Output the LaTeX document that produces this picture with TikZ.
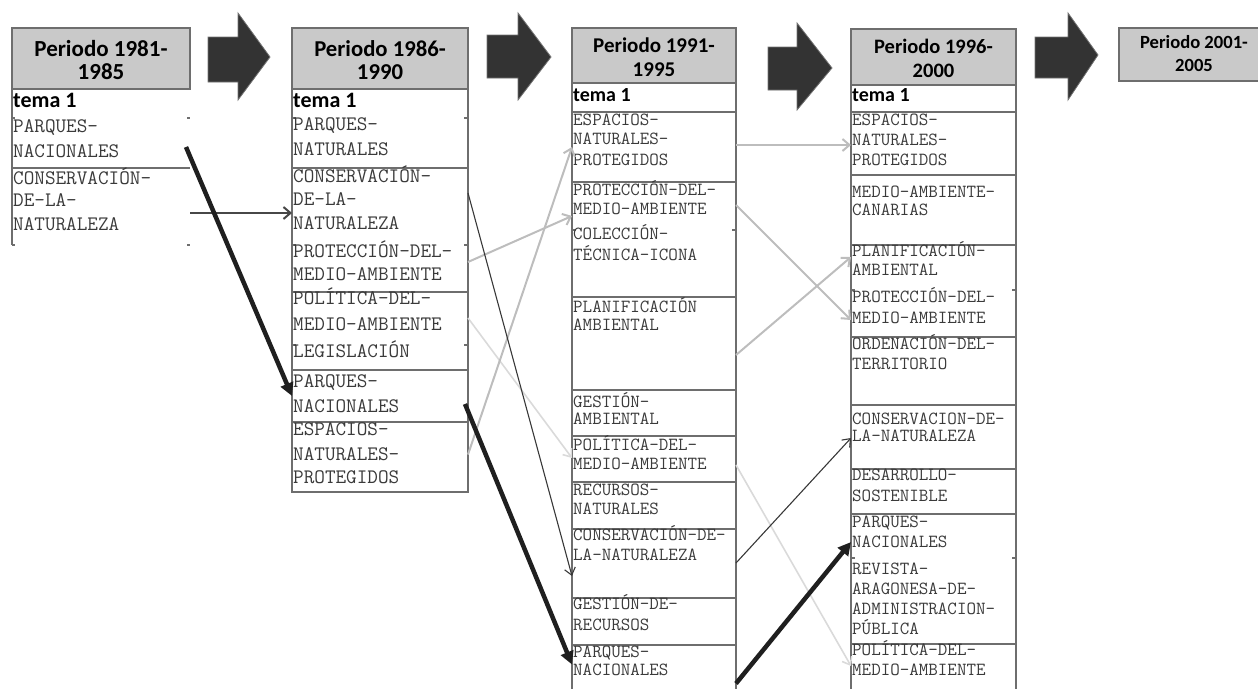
\documentclass[tikz,border=0pt]{standalone}
\usepackage{fontspec}
\usetikzlibrary{arrows.meta}
\newfontfamily\califam{Carlito}
\definecolor{gridc}{HTML}{6E6E6E}
\definecolor{headc}{HTML}{C9C9C9}
\definecolor{itemc}{HTML}{3A3A3A}
\definecolor{blockc}{HTML}{333333}
\definecolor{lightc}{HTML}{BDBDBD}
\definecolor{palec}{HTML}{DADADA}
\begin{document}
\begin{tikzpicture}[
  x=1pt, y=-1pt,
  gridline/.style={draw=gridc, line width=1.3pt},
  headbox/.style={draw=gridc, fill=headc, line width=1.3pt, inner sep=0pt, outer sep=0pt, anchor=north west},
  cellbox/.style={draw=gridc, line width=1.3pt, inner sep=0pt, outer sep=0pt, anchor=north west},
  freecell/.style={inner sep=0pt, outer sep=0pt, anchor=north west},
  headtext/.style={align=center, text=black, inner sep=0pt},
  tematext/.style={anchor=mid west, inner sep=0pt, text=black},
  itemA/.style={anchor=mid west, inner sep=0pt, text=itemc, font=\ttfamily\fontsize{20.6}{22}\selectfont},
  itemB/.style={anchor=mid west, inner sep=0pt, text=itemc, font=\ttfamily\fontsize{18.5}{20}\selectfont},
  bigarrow/.style={fill=blockc, draw=black!55, line width=0.8pt, line join=miter},
  heavylink/.style={draw=black!88, line width=4.5pt, -{Triangle[length=13pt,width=13pt]}},
  midlink/.style={draw=black!72, line width=2pt, -{Straight Barb[length=7pt,width=12pt]}},
  darklink/.style={draw=black!78, line width=1.1pt, -{Straight Barb[length=7pt,width=11pt]}},
  lightlink/.style={draw=lightc, line width=2pt, -{Straight Barb[length=7pt,width=12pt]}},
  palelink/.style={draw=palec, line width=1.6pt, -{Straight Barb[length=7pt,width=11pt]}}
]
\useasboundingbox (0,0) rectangle (1258,688);
\clip (0,0) rectangle (1258,688);

% ---------- block arrows between periods ----------
\draw[bigarrow] (208,37) -- (238,37) -- (238,13) -- (270,57) -- (238,100) -- (238,82) -- (208,82) -- cycle;
\draw[bigarrow] (487,35) -- (518,35) -- (518,13) -- (551,57) -- (518,100) -- (518,78) -- (487,78) -- cycle;
\draw[bigarrow] (768,47) -- (797,47) -- (797,23) -- (832,68) -- (797,110) -- (797,90) -- (768,90) -- cycle;
\draw[bigarrow] (1035,37) -- (1068,37) -- (1068,13) -- (1098,55) -- (1068,100) -- (1068,78) -- (1035,78) -- cycle;

% ---------- period 1981-1985 ----------
\node[headbox, minimum width=178pt, minimum height=61pt] (h1) at (12,28) {};
\node[headtext, font=\califam\bfseries\fontsize{23}{23}\selectfont] (t1) at ([yshift=-2pt]h1.center) {Periodo 1981-\\1985};
\node[freecell, minimum width=178pt, minimum height=79pt] (c1a) at (12,89) {};
\node[freecell, minimum width=178pt, minimum height=77pt] (c1b) at (12,168) {};
\draw[gridline] (c1a.north west) -- (c1b.south west);
\draw[gridline] (c1b.north west) -- (c1b.north east);
\draw[gridline] (12,118) -- (15,118) (187,118) -- (190,118) (187,245) -- (190,245) (12,245) -- (15,245);
\node[tematext, font=\califam\bfseries\fontsize{22}{24}\selectfont] (m1) at (13,105) {tema 1};
\foreach \t/\yy [count=\i] in {PARQUES-/130, NACIONALES/155, CONSERVACIÓN-/182, DE-LA-/204, NATURALEZA/228}
  \node[itemA] (k1-\i) at (13,\yy) {\t};

% ---------- period 1986-1990 ----------
\node[headbox, minimum width=176pt, minimum height=61pt] (h2) at (292,28) {};
\node[headtext, font=\califam\bfseries\fontsize{22.7}{23}\selectfont] (t2) at ([yshift=-2pt]h2.center) {Periodo 1986-\\1990};
\node[cellbox, minimum width=176pt, minimum height=79pt] (c2a) at (292,89) {};
\node[cellbox, minimum width=176pt, minimum height=124pt] (c2b) at (292,168) {};
\node[cellbox, minimum width=176pt, minimum height=78pt] (c2c) at (292,292) {};
\node[cellbox, minimum width=176pt, minimum height=52pt] (c2d) at (292,370) {};
\node[cellbox, minimum width=176pt, minimum height=70pt] (c2e) at (292,422) {};
\foreach \yy in {118,245,345}
  \draw[gridline] (292,\yy) -- (296,\yy) (464,\yy) -- (468,\yy);
\node[tematext, font=\califam\bfseries\fontsize{22}{24}\selectfont] (m2) at (293,105) {tema 1};
\foreach \t/\yy [count=\i] in {PARQUES-/128, NATURALES/153, CONSERVACIÓN-/180, DE-LA-/203, NATURALEZA/227,
    PROTECCIÓN-DEL-/255, MEDIO-AMBIENTE/278, POLÍTICA-DEL-/302, MEDIO-AMBIENTE/328, LEGISLACIÓN/355,
    PARQUES-/385, NACIONALES/410, ESPACIOS-/433, NATURALES-/458, PROTEGIDOS/481}
  \node[itemA] (k2-\i) at (293,\yy) {\t};

% ---------- period 1991-1995 ----------
\node[headbox, minimum width=164pt, minimum height=55pt] (h3) at (572,28) {};
\node[headtext, font=\califam\bfseries\fontsize{21}{24}\selectfont] (t3) at ([yshift=-2pt]h3.center) {Periodo 1991-\\1995};
\node[cellbox, minimum width=164pt, minimum height=29pt] (c3t) at (572,83) {};
\node[cellbox, minimum width=164pt, minimum height=70pt] (c3a) at (572,112) {};
\node[cellbox, minimum width=164pt, minimum height=115pt] (c3b) at (572,182) {};
\node[cellbox, minimum width=164pt, minimum height=93pt] (c3c) at (572,297) {};
\node[cellbox, minimum width=164pt, minimum height=46pt] (c3d) at (572,390) {};
\node[cellbox, minimum width=164pt, minimum height=46pt] (c3e) at (572,436) {};
\node[cellbox, minimum width=164pt, minimum height=47pt] (c3f) at (572,482) {};
\node[cellbox, minimum width=164pt, minimum height=69pt] (c3g) at (572,529) {};
\node[cellbox, minimum width=164pt, minimum height=47pt] (c3h) at (572,598) {};
\node[cellbox, minimum width=164pt, minimum height=60pt] (c3i) at (572,645) {};
\draw[gridline] (572,230) -- (576,230) (732,230) -- (736,230);
\node[tematext, font=\califam\bfseries\fontsize{20}{24}\selectfont] (m3) at (573,99) {tema 1};
\foreach \t/\yy [count=\i] in {ESPACIOS-/123, NATURALES-/142, PROTEGIDOS/163,
    PROTECCIÓN-DEL-/193, MEDIO-AMBIENTE/212, COLECCIÓN-/237, TÉCNICA-ICONA/258,
    PLANIFICACIÓN/310, AMBIENTAL/328, GESTIÓN-/405, AMBIENTAL/422,
    POLÍTICA-DEL-/448, MEDIO-AMBIENTE/467, RECURSOS-/493, NATURALES/512,
    CONSERVACIÓN-DE-/538, LA-NATURALEZA/558, GESTIÓN-DE-/607, RECURSOS/628,
    PARQUES-/655, NACIONALES/673}
  \node[itemB] (k3-\i) at (573,\yy) {\t};

% ---------- period 1996-2000 ----------
\node[headbox, minimum width=165pt, minimum height=56pt] (h4) at (851,29) {};
\node[headtext, font=\califam\bfseries\fontsize{20.5}{24}\selectfont] (t4) at ([yshift=-1pt]h4.center) {Periodo 1996-\\2000};
\node[cellbox, minimum width=165pt, minimum height=27pt] (c4t) at (851,85) {};
\node[cellbox, minimum width=165pt, minimum height=63pt] (c4a) at (851,112) {};
\node[cellbox, minimum width=165pt, minimum height=70pt] (c4b) at (851,175) {};
\node[cellbox, minimum width=165pt, minimum height=92pt] (c4c) at (851,245) {};
\node[cellbox, minimum width=165pt, minimum height=68pt] (c4d) at (851,337) {};
\node[cellbox, minimum width=165pt, minimum height=64pt] (c4e) at (851,405) {};
\node[cellbox, minimum width=165pt, minimum height=45pt] (c4f) at (851,469) {};
\node[cellbox, minimum width=165pt, minimum height=130pt] (c4g) at (851,514) {};
\node[cellbox, minimum width=165pt, minimum height=60pt] (c4h) at (851,644) {};
\foreach \yy in {290,558}
  \draw[gridline] (851,\yy) -- (855,\yy) (1012,\yy) -- (1016,\yy);
\node[tematext, font=\califam\bfseries\fontsize{20}{24}\selectfont] (m4) at (852,99) {tema 1};
\foreach \t/\yy [count=\i] in {ESPACIOS-/123, NATURALES-/143, PROTEGIDOS/163,
    MEDIO-AMBIENTE-/195, CANARIAS/213, PLANIFICACIÓN-/254, AMBIENTAL/273,
    PROTECCIÓN-DEL-/300, MEDIO-AMBIENTE/321, ORDENACIÓN-DEL-/347, TERRITORIO/367,
    CONSERVACION-DE-/422, LA-NATURALEZA/439, DESARROLLO-/478, SOSTENIBLE/499,
    PARQUES-/525, NACIONALES/545, REVISTA-/572, ARAGONESA-DE-/592,
    ADMINISTRACION-/612, PÚBLICA/632, POLÍTICA-DEL-/653, MEDIO-AMBIENTE/673}
  \node[itemB] (k4-\i) at (852,\yy) {\t};

% ---------- period 2001-2005 ----------
\node[headbox, minimum width=150pt, minimum height=53pt] (h5) at (1119,28) {};
\node[headtext, font=\califam\bfseries\fontsize{18.6}{23}\selectfont] (t5) at (1194,54) {Periodo 2001-\\2005};

% ---------- links between topics ----------
\draw[palelink]  ([yshift=13pt]c2c.east)    -- ([yshift=1pt]c3e.west);
\draw[palelink]  ([yshift=-6pt]c3e.east)    -- ([yshift=8pt]c4h.west);
\draw[lightlink] ([yshift=-32pt]c2b.east)   -- ([yshift=23.5pt]c3b.west);
\draw[lightlink] ([yshift=2.5pt]c2e.east)   -- (c3a.west);
\draw[lightlink] ([yshift=2pt]c3a.east)     -- ([yshift=-1.5pt]c4a.west);
\draw[lightlink] ([yshift=34.5pt]c3b.east)  -- ([yshift=-29pt]c4c.west);
\draw[lightlink] ([yshift=-11.5pt]c3c.east) -- ([yshift=34pt]c4c.west);
\draw[midlink]   ([yshift=-6.5pt]c1b.east)  -- ([yshift=17pt]c2b.west);
\draw[darklink]  ([yshift=37pt]c2b.east)    -- ([yshift=-12.5pt]c3g.west);
\draw[darklink]  ([yshift=0.5pt]c3g.east)   -- ([yshift=-1pt]c4e.west);
\draw[heavylink] ([xshift=-4pt,yshift=-18.5pt]c1a.east) -- (c2d.west);
\draw[heavylink] ([xshift=-3pt,yshift=-8pt]c2d.east) -- ([yshift=10.5pt]c3i.west);
\draw[heavylink] ([yshift=-8.5pt]c3i.east)  -- ([yshift=37pt]c4g.west);
\end{tikzpicture}
\end{document}
